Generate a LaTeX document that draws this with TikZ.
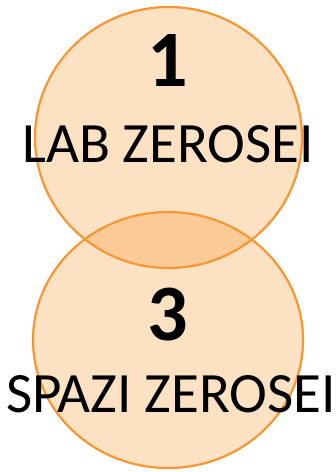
\documentclass[tikz,border=0pt]{standalone}
\usepackage{fontspec}
\setmainfont{Carlito}
\definecolor{cfill}{RGB}{247,135,15}
\definecolor{cline}{RGB}{247,150,50}
\begin{document}
\begin{tikzpicture}[x=1pt,y=-1pt,
  disk/.style={fill=cfill,fill opacity=0.25},
  ring/.style={draw=cline,line width=2.2pt},
  num/.style={anchor=base,font=\fontsize{80}{80}\selectfont\bfseries,inner sep=0pt},
  lbl/.style={anchor=base,font=\fontsize{57}{57}\selectfont,inner sep=0pt}]
\useasboundingbox (0,0) rectangle (336,472);
\fill[disk] (168.5,137.5) ellipse [x radius=133.5, y radius=130.5];
\fill[disk] (168,340) ellipse [x radius=135, y radius=128];
\draw[ring] (168.5,137.5) ellipse [x radius=133.5, y radius=130.5];
\draw[ring] (168,340) ellipse [x radius=135, y radius=128];
\node[num] (n1) at (168,86) {1};
\node[lbl] (l1) at (168,162) {LAB ZEROSEI};
\node[num] (n3) at (168,340) {3};
\node[lbl] (l3) at (171,412) {SPAZI ZEROSEI};
\end{tikzpicture}
\end{document}
